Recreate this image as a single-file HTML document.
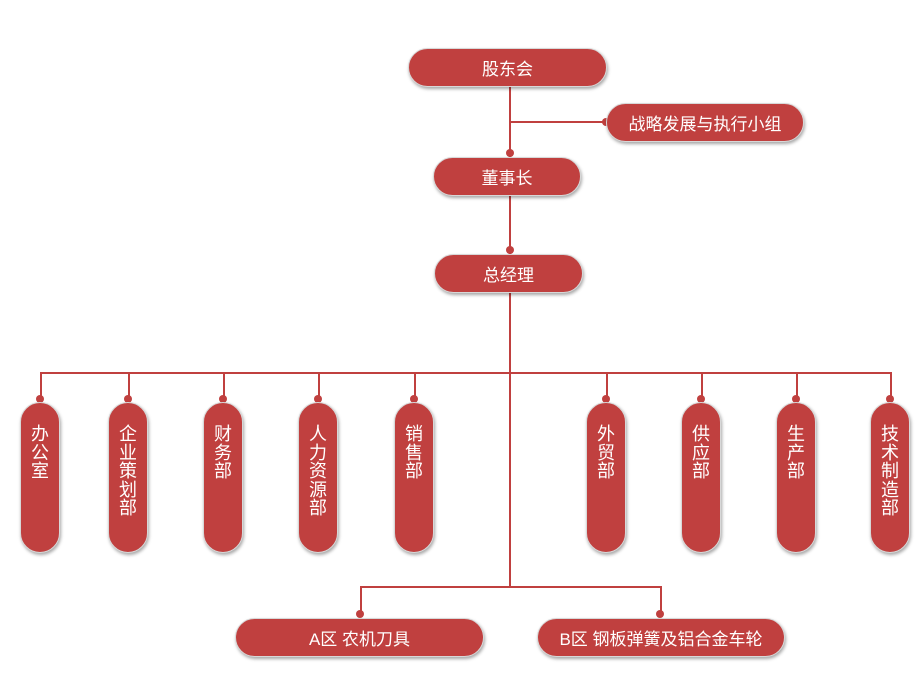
<!DOCTYPE html>
<html><head><meta charset="utf-8"><style>
body{margin:0;width:916px;height:679px;background:#fff;position:relative;overflow:hidden;font-family:"Liberation Sans","Noto Sans CJK SC",sans-serif}
.b{position:absolute;background:#c0403f;color:#fff;border-radius:20px;box-shadow:1px 2px 3px rgba(0,0,0,.35);border:1px solid #d8d8d8;box-sizing:border-box;display:flex;align-items:center;justify-content:center;font-size:17px}
.v{position:absolute;width:40px;top:402px;height:151px;background:#c0403f;color:#fff;border-radius:20px;box-shadow:1px 2px 3px rgba(0,0,0,.35);border:1px solid #d8d8d8;box-sizing:border-box;font-size:18px;line-height:18.5px;text-align:center;padding-top:22px}
.l{position:absolute;background:#c0403f}
.d{position:absolute;width:8px;height:8px;border-radius:50%;background:#c0403f}
</style></head><body>
<div class="l" style="left:509px;top:86px;width:1.5px;height:500px"></div>
<div class="l" style="left:510px;top:121px;width:96px;height:1.5px"></div>
<div class="l" style="left:40px;top:372px;width:851px;height:1.5px"></div>
<div class="l" style="left:360px;top:586px;width:301px;height:1.5px"></div>
<div class="l" style="left:360px;top:586px;width:1.5px;height:30px"></div>
<div class="l" style="left:660px;top:586px;width:1.5px;height:30px"></div>
<div class="l" style="left:40px;top:372px;width:1.5px;height:28px"></div>
<div class="l" style="left:128px;top:372px;width:1.5px;height:28px"></div>
<div class="l" style="left:223px;top:372px;width:1.5px;height:28px"></div>
<div class="l" style="left:318px;top:372px;width:1.5px;height:28px"></div>
<div class="l" style="left:414px;top:372px;width:1.5px;height:28px"></div>
<div class="l" style="left:606px;top:372px;width:1.5px;height:28px"></div>
<div class="l" style="left:701px;top:372px;width:1.5px;height:28px"></div>
<div class="l" style="left:796px;top:372px;width:1.5px;height:28px"></div>
<div class="l" style="left:890px;top:372px;width:1.5px;height:28px"></div>
<div class="d" style="left:602px;top:118px"></div>
<div class="d" style="left:506px;top:149px"></div>
<div class="d" style="left:506px;top:246px"></div>
<div class="d" style="left:356px;top:610px"></div>
<div class="d" style="left:656px;top:610px"></div>
<div class="d" style="left:36px;top:395px"></div>
<div class="d" style="left:124px;top:395px"></div>
<div class="d" style="left:219px;top:395px"></div>
<div class="d" style="left:314px;top:395px"></div>
<div class="d" style="left:410px;top:395px"></div>
<div class="d" style="left:602px;top:395px"></div>
<div class="d" style="left:697px;top:395px"></div>
<div class="d" style="left:792px;top:395px"></div>
<div class="d" style="left:886px;top:395px"></div>
<div class="b" style="left:408px;top:48px;width:199px;height:39px">股东会</div>
<div class="b" style="left:606px;top:103px;width:198px;height:39px">战略发展与执行小组</div>
<div class="b" style="left:433px;top:157px;width:148px;height:39px">董事长</div>
<div class="b" style="left:434px;top:254px;width:149px;height:39px">总经理</div>
<div class="b" style="left:235px;top:618px;width:249px;height:39px">A区 农机刀具</div>
<div class="b" style="left:537px;top:618px;width:248px;height:39px">B区 钢板弹簧及铝合金车轮</div>
<div class="v" style="left:20px">办<br>公<br>室</div>
<div class="v" style="left:108px">企<br>业<br>策<br>划<br>部</div>
<div class="v" style="left:203px">财<br>务<br>部</div>
<div class="v" style="left:298px">人<br>力<br>资<br>源<br>部</div>
<div class="v" style="left:394px">销<br>售<br>部</div>
<div class="v" style="left:586px">外<br>贸<br>部</div>
<div class="v" style="left:681px">供<br>应<br>部</div>
<div class="v" style="left:776px">生<br>产<br>部</div>
<div class="v" style="left:870px">技<br>术<br>制<br>造<br>部</div>
</body></html>
